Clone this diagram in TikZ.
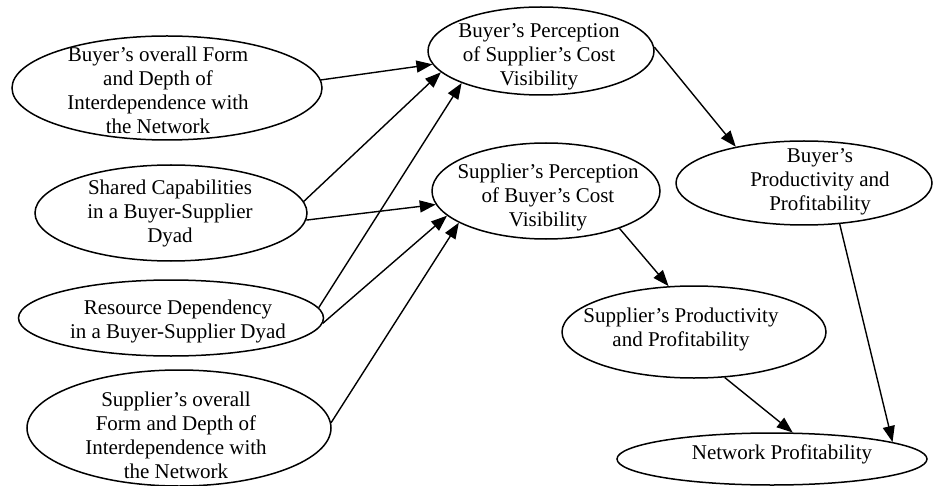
\documentclass[tikz,border=0pt]{standalone}
\usepackage{fontspec}
\setmainfont{Liberation Serif}
\usetikzlibrary{shapes.geometric,arrows.meta}
\begin{document}
\begin{tikzpicture}[x=1pt,y=-1pt]
   \tikzset{font={\fontsize{21pt}{24pt}\selectfont}}
   \tikzset{factor/.style={draw,ellipse,line width=1.5pt,inner sep=0pt}}
   \tikzset{lbl/.style={align=center,inner sep=0pt}}
   \tikzset{arr/.style={-{Triangle[length=16pt,width=12pt]},line width=1.4pt}}
   \useasboundingbox (0,0) rectangle (933,486);
    % left column
    \node[factor,minimum width=310pt,minimum height=104pt] (bform) at (167,88) {};
    \node[lbl] (bform-t) at (158,90) {Buyer's overall Form\\and Depth of\\Interdependence with\\the Network};
    \node[factor,minimum width=272pt,minimum height=96pt] (shcap) at (171,213) {};
    \node[lbl] (shcap-t) at (170,213) {Shared Capabilities\\in a Buyer-Supplier\\Dyad};
    \node[factor,minimum width=305pt,minimum height=76pt] (resdep) at (171,318) {};
    \node[lbl] (resdep-t) at (178,321) {Resource Dependency\\in a Buyer-Supplier Dyad};
    \node[factor,minimum width=304pt,minimum height=116pt] (sform) at (179,428) {};
    \node[lbl] (sform-t) at (176,435) {Supplier's overall\\Form and Depth of\\Interdependence with\\the Network};
    % perception
    \node[factor,minimum width=226pt,minimum height=88pt] (bperc) at (541,51) {};
    \node[lbl] (bperc-t) at (539,57) {Buyer's Perception\\of Supplier's Cost\\Visibility};
    \node[factor,minimum width=228pt,minimum height=96pt] (sperc) at (546,191) {};
    \node[lbl] (sperc-t) at (548,197) {Supplier's Perception\\of Buyer's Cost\\Visibility};
    % outcomes
    \node[factor,minimum width=256pt,minimum height=84pt] (bprod) at (804,183) {};
    \node[lbl] (bprod-t) at (820,182) {Buyer's\\Productivity and\\Profitability};
    \node[factor,minimum width=264pt,minimum height=92pt] (sprod) at (694,332) {};
    \node[lbl] (sprod-t) at (681,329) {Supplier's Productivity\\and Profitability};
    \node[factor,minimum width=310pt,minimum height=52pt] (netprof) at (772,459) {};
    \node[lbl] (netprof-t) at (782,454) {Network Profitability};
    \draw[arr] (bform.3) -- (bperc.187);
    \draw[arr] (shcap.5) -- (bperc.192);
    \draw[arr] (shcap.357) -- (sperc.187);
    \draw[arr] (resdep.4) -- (bperc.202);
    \draw[arr] (resdep.358) -- (sperc.194);
    \draw[arr] (sform.2) -- (sperc.200);
    \draw[arr] (bperc.2) -- (bprod.152);
    \draw[arr] (sperc.333) -- (sprod.119);
    \draw[arr] (bprod.311) -- (netprof.8);
    \draw[arr] (sprod.304) -- (netprof.52);
\end{tikzpicture}
\end{document}
